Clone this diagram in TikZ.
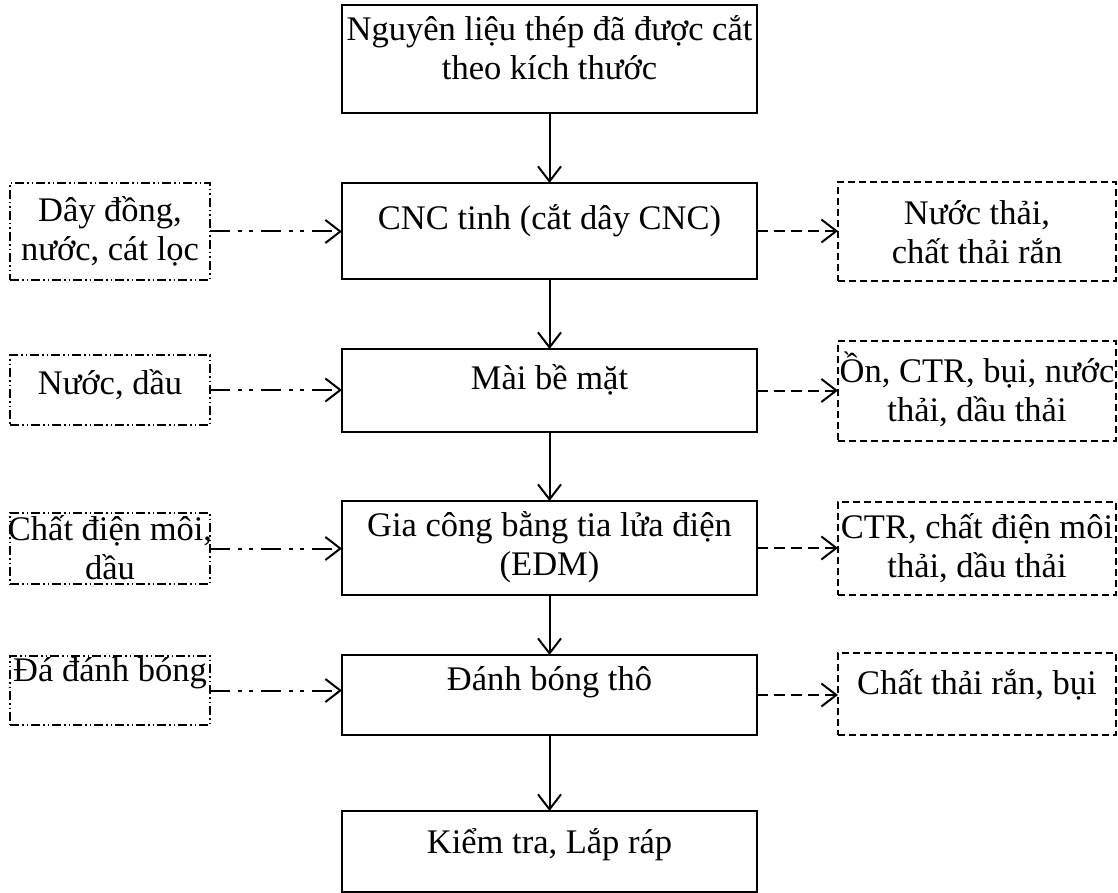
\documentclass[tikz,border=0pt]{standalone}
\usepackage{fontspec}
\setmainfont{Liberation Serif}
\usetikzlibrary{arrows.meta}
\begin{document}
\begin{tikzpicture}[x=1pt,y=-1pt,
  every node/.style={inner sep=0pt, outer sep=0pt},
  txt/.style={font=\fontsize{34.5}{39}\selectfont, align=center},
  procbox/.style={draw, line width=2pt, minimum width=415pt, minimum height=#1},
  inbox/.style={draw, line width=1.2pt,
    dash pattern=on 9pt off 3pt on 1.5pt off 3pt on 1.5pt off 3pt,
    minimum width=200pt, minimum height=#1},
  outbox/.style={draw, line width=1.3pt, dash pattern=on 7pt off 4pt,
    minimum width=278pt, minimum height=#1},
  flow/.style={line width=2pt, -{Straight Barb[length=15pt,width=23pt,line width=2pt]}},
  inflow/.style={flow, dash pattern=on 20pt off 8pt on 4pt off 7pt on 4pt off 8pt},
  outflow/.style={flow, dash pattern=on 11pt off 6pt},
]
\fill[white] (0,0) rectangle (1118,893);
\useasboundingbox (0,0) rectangle (1118,893);

% main process column
\node[procbox=108pt] (raw) at (549.5,59) {};
\node[txt] (rawt) at (549.5,48) {Nguyên liệu thép đã được cắt\\theo kích thước};

\node[procbox=96pt] (cnc) at (549.5,231) {};
\node[txt] (cnct) at (549.5,221) {CNC tinh (cắt dây CNC)};

\node[procbox=83pt] (grind) at (549.5,390.5) {};
\node[txt] (grindt) at (549.5,380) {Mài bề mặt};

\node[procbox=94pt] (edm) at (549.5,548) {};
\node[txt] (edmt) at (549.5,547) {Gia công bằng tia lửa điện\\(EDM)};

\node[procbox=80pt] (pol) at (549.5,695) {};
\node[txt] (polt) at (549.5,682) {Đánh bóng thô};

\node[procbox=81pt] (chk) at (549.5,851.5) {};
\node[txt] (chkt) at (549.5,845) {Kiểm tra, Lắp ráp};

% inputs
\node[inbox=97pt] (in1) at (110,231.5) {};
\node[txt] (in1t) at (110,231) {Dây đồng,\\nước, cát lọc};
\node[inbox=70pt] (in2) at (110,390) {};
\node[txt] (in2t) at (110,385) {Nước, dầu};
\node[inbox=71pt] (in3) at (110,548.5) {};
\node[txt] (in3t) at (110,548) {Chất điện môi,\\dầu};
\node[inbox=69pt] (in4) at (110,690.5) {};
\node[txt] (in4t) at (110,673) {Đá đánh bóng};

% outputs
\node[outbox=99pt] (out1) at (977,231.5) {};
\node[txt] (out1t) at (977,232) {Nước thải,\\chất thải rắn};
\node[outbox=100pt] (out2) at (977,391) {};
\node[txt] (out2t) at (977,389) {Ồn, CTR, bụi, nước\\thải, dầu thải};
\node[outbox=93pt] (out3) at (977,548.5) {};
\node[txt] (out3t) at (977,548) {CTR, chất điện môi\\thải, dầu thải};
\node[outbox=82pt] (out4) at (977,694) {};
\node[txt] (out4t) at (977,685) {Chất thải rắn, bụi};

% main flow
\draw[flow] (raw) -- (cnc);
\draw[flow] (cnc) -- (grind);
\draw[flow] (grind) -- (edm);
\draw[flow] (edm) -- (pol);
\draw[flow] (pol) -- (chk);

% material inputs
\draw[inflow] (in1.east) -- (in1.east -| cnc.west);
\draw[inflow] (in2.east) -- (in2.east -| grind.west);
\draw[inflow] (in3.east) -- (in3.east -| edm.west);
\draw[inflow] (in4.east) -- (in4.east -| pol.west);

% waste outputs
\draw[outflow] (cnc.east) -- (cnc.east -| out1.west);
\draw[outflow] (grind.east) -- (grind.east -| out2.west);
\draw[outflow] (edm.east) -- (edm.east -| out3.west);
\draw[outflow] (pol.east) -- (pol.east -| out4.west);
\end{tikzpicture}
\end{document}
